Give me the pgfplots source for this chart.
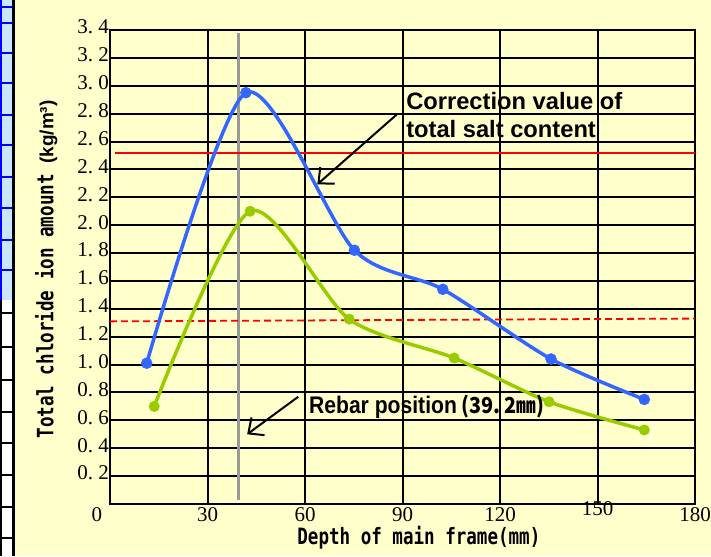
\documentclass[border=0pt]{standalone}
\usepackage{fontspec}
\usepackage{pgfplots}
\pgfplotsset{compat=1.18}
\usetikzlibrary{arrows.meta}
\newfontfamily\annA{Liberation Sans}
\newfontfamily\annB{Liberation Sans}[FakeStretch=0.88]
\newfontfamily\goth{DejaVu Sans Mono}[FakeStretch=0.78]
\newfontfamily\cjk{Noto Sans CJK JP}[FakeStretch=0.9]
\newfontfamily\tickserif{Liberation Serif}
\definecolor{bg}{RGB}{255,255,204}
\definecolor{myblue}{RGB}{51,102,255}
\definecolor{mygreen}{RGB}{153,204,0}
\definecolor{rebar}{RGB}{153,153,153}
\definecolor{stripblue}{RGB}{204,229,255}
\begin{document}
\begin{tikzpicture}[x=1pt,y=1pt]
\useasboundingbox (0,0) rectangle (711,556);
\fill[bg] (0,0) rectangle (711,556);
% left strip
\fill[white] (0,0) rectangle (13,256);
\fill[stripblue] (0,256) rectangle (13,556);
\foreach \yy in {549,533,503,473,441,411,379,348,316,286}
  \draw[blue, line width=1.5pt] (0,\yy) -- (13,\yy);
\foreach \yy in {243,209,176,144,113,81,49,18}
  \draw[black, line width=1.5pt] (0,\yy) -- (13,\yy);
\draw[blue, line width=1.5pt] (0.75,256) -- (0.75,556);
\draw[black, line width=1.5pt] (0.75,0) -- (0.75,256);
\draw[black, line width=2.5pt] (13.5,0) -- (13.5,556);
\begin{axis}[
  at={(110pt,52pt)}, anchor=south west,
  scale only axis, width=585pt, height=474pt,
  xmin=0, xmax=180, ymin=0, ymax=3.4,
  xtick={0,30,60,90,120,150,180},
  xticklabels={\makebox[0pt][r]{0\hspace{8pt}},30,60,90,120,,180},
  extra x ticks={150}, extra x tick labels={150},
  extra x tick style={grid=none, xticklabel style={yshift=6pt}},
  ytick={0.2,0.4,0.6,0.8,1.0,1.2,1.4,1.6,1.8,2.0,2.2,2.4,2.6,2.8,3.0,3.2,3.4},
  yticklabels={0.\ 2,0.\ 4,0.\ 6,0.\ 8,1.\ 0,1.\ 2,1.\ 4,1.\ 6,1.\ 8,2.\ 0,2.\ 2,2.\ 4,2.\ 6,2.\ 8,3.\ 0,3.\ 2,3.\ 4},
  yticklabel style={inner sep=1pt, yshift=3pt},
  tick label style={font=\fontsize{21}{21}\selectfont\tickserif},
  major tick length=0pt,
  grid=major, major grid style={black, line width=2pt},
  axis line style={black, line width=2.5pt},
  axis background/.style={fill=bg},
  xlabel={\goth\bfseries Depth of main frame(mm)},
  xlabel style={at={(axis description cs:0.528,-0.072)}, anchor=center, font=\fontsize{22.5}{22.5}\selectfont},
  ylabel={\goth\bfseries Total chloride ion amount {\fontsize{19}{19}\selectfont\annA\bfseries (kg/m³)}},
  ylabel style={at={(axis description cs:-0.109,0.495)}, anchor=center, font=\fontsize{22.5}{22.5}\selectfont},
]
\addplot[rebar, line width=3pt] coordinates {(39.4,0.03) (39.4,3.38)};
\addplot[red, line width=1.8pt] coordinates {(1.5,2.516) (180,2.516)};
\addplot[red, line width=1.8pt, dash pattern=on 7pt off 4pt] coordinates {(0,1.31) (180,1.33)};
\addplot[myblue, line width=3.5pt, smooth, tension=0.45, mark=*, mark size=5.5pt, mark options={line width=0.5pt, fill=myblue}]
  coordinates {(11.3,1.01) (41.8,2.95) (75.2,1.82) (102.4,1.54) (135.7,1.04) (164.4,0.75)};
\addplot[mygreen, line width=3.5pt, smooth, tension=0.45, mark=*, mark size=5.2pt, mark options={line width=0.5pt, fill=mygreen}]
  coordinates {(13.6,0.70) (43.1,2.10) (73.6,1.326) (105.9,1.047) (135.1,0.733) (164.4,0.531)};
\draw[-{Straight Barb[length=12pt,width=22pt]}, line width=2pt] (axis cs:88.2,2.793) -- (axis cs:63.8,2.293);
\draw[-{Straight Barb[length=12pt,width=22pt]}, line width=2pt] (axis cs:57.9,0.769) -- (axis cs:42.2,0.50);
\node[anchor=base west, inner sep=0pt, font=\fontsize{23.7}{23.7}\selectfont\annA\bfseries] at (axis cs:91.1,2.83) {Correction value of};
\node[anchor=base west, inner sep=0pt, font=\fontsize{23.7}{23.7}\selectfont\annA\bfseries] at (axis cs:91.1,2.63) {total salt content};
\node[anchor=base west, inner sep=0pt, font=\fontsize{24}{24}\selectfont\bfseries] at (axis cs:61.2,0.652) {\annB Rebar position\hspace{5pt}{\cjk\fontsize{22}{22}\selectfont (39.\hspace{4pt}2㎜)}};
\end{axis}
\end{tikzpicture}
\end{document}
